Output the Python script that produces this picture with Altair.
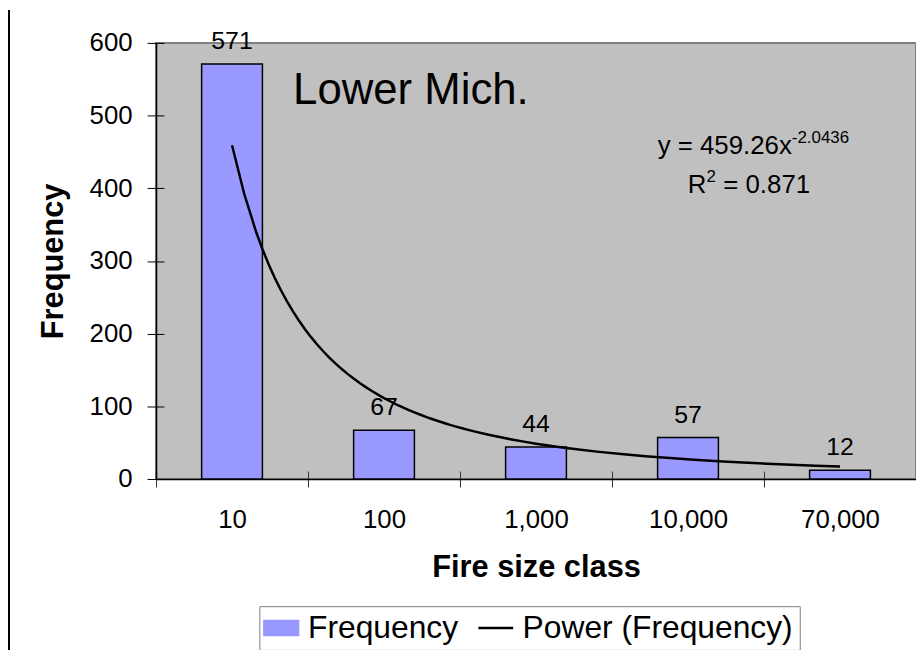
import altair as alt
import pandas as pd

# ---- data ----
size_class = ["10", "100", "1,000", "10,000", "70,000"]
frequency = [571, 67, 44, 57, 12]
class_index = [1, 2, 3, 4, 5]
series_names = ["Frequency", "Power (Frequency)"]

FONT = "Liberation Sans"
PLOT_W, PLOT_H = 765, 439

bars_df = pd.DataFrame({
    "size_class": size_class,
    "frequency": frequency,
    "idx": class_index,
    "series": [series_names[0]] * len(size_class),
})

color_scale = alt.Scale(domain=series_names, range=["#9999FF", "#000000"])

legend = alt.Legend(
    title=None, orient="none", legendX=104, legendY=567, direction="horizontal",
    labelFont=FONT, labelFontSize=32, labelColor="black", labelLimit=400,
    symbolSize=1225, labelOffset=11, columnPadding=14,
    strokeColor="#808080", padding=6, fillColor="white",
    symbolType={"expr": "datum.value === 'Frequency' ? 'M-1,-0.43H1V0.43H-1Z' : 'stroke'"},
    symbolFillColor={"expr": "datum.value === 'Frequency' ? '#9999FF' : 'transparent'"},
    symbolStrokeColor="black",
    symbolStrokeWidth={"expr": "datum.value === 'Frequency' ? 1.5 : 2.5"},
    symbolOpacity=1,
)

y_enc = alt.Y(
    "frequency:Q",
    scale=alt.Scale(domain=[0, 600], nice=False),
    axis=alt.Axis(
        values=list(range(0, 700, 100)), title="Frequency",
        titleFont=FONT, titleFontSize=31, titleFontWeight="bold", titlePadding=20,
        titleColor="black", labelFont=FONT, labelFontSize=26, labelPadding=15,
        labelColor="black", tickSize=9, tickColor="black", domainColor="black",
        domainWidth=1.5, grid=True, gridColor="black", gridDash=[8, 2000],
        gridOpacity=1,
    ),
)

base = alt.Chart(bars_df)

bars = base.mark_bar(
    stroke="black", strokeWidth=1.5, opacity=1, width=alt.RelativeBandSize(0.4)
).encode(
    x=alt.X(
        "size_class:N", sort=size_class, title="Fire size class",
        scale=alt.Scale(paddingInner=0, paddingOuter=0),
        axis=alt.Axis(
            labelAngle=0, tickBand="extent", tickSize=8, tickColor="#333333",
            labelPadding=20, labelFont=FONT, labelFontSize=26, labelColor="black",
            titleFont=FONT, titleFontSize=31, titleFontWeight="bold",
            titleColor="black", titlePadding=20, domainColor="black", domainWidth=1.5,
            grid=True, gridColor="#333333", gridDash=[0, PLOT_H - 8, 8, 2000],
            gridOpacity=1,
        ),
    ),
    y=y_enc,
    color=alt.Color("series:N", scale=color_scale, legend=legend),
)

labels = base.mark_text(
    font=FONT, fontSize=25, dy=-15, baseline="alphabetic", color="black"
).encode(
    x=alt.X("size_class:N", sort=size_class),
    y=alt.Y("frequency:Q"),
    text=alt.Text("frequency:Q"),
)

bar_layer = alt.layer(bars, labels)

trend = (
    base.transform_regression("idx", "frequency", method="pow")
    .transform_calculate(series="'Power (Frequency)'")
    .mark_line(strokeWidth=2.5)
    .encode(
        x=alt.X("idx:Q", scale=alt.Scale(domain=[0.5, 5.5], nice=False, zero=False), axis=None),
        y=alt.Y("frequency:Q"),
        color=alt.Color("series:N", scale=color_scale, legend=legend),
    )
)


def note(text, x, y, size, align="left", weight="normal"):
    return alt.Chart(pd.DataFrame({"t": [text]})).mark_text(
        font=FONT, fontSize=size, align=align, baseline="alphabetic",
        color="black", fontWeight=weight,
    ).encode(text="t:N", x=alt.value(x), y=alt.value(y))


title_txt = note("Lower Mich.", 138, 62, 44)
eq_main = note("y = 459.26x", 640, 112, 26, align="right")
eq_sup = note("-2.0436", 640, 101, 17)
r_main = note("R", 554, 151, 26, align="right")
r_sup = note("2", 554, 140, 17)
r_rest = note("= 0.871", 571, 151, 26)

frame = alt.Chart(pd.DataFrame({"a": [0]})).mark_rule(color="black", strokeWidth=2).encode(
    x=alt.value(-148), y=alt.value(-33), y2=alt.value(620)
)

chart = (
    alt.layer(bar_layer, trend, title_txt, eq_main, eq_sup, r_main, r_sup, r_rest, frame)
    .resolve_scale(x="independent")
    .properties(
        width=PLOT_W, height=PLOT_H,
        autosize=alt.AutoSizeParams(type="none"),
        padding={"left": 149, "top": 33, "right": 0, "bottom": 170},
        background="white",
    )
    .configure(font=FONT)
    .configure_view(fill="#C0C0C0", stroke="#808080", strokeWidth=2)
)

chart.save("out.html", embed_options={"renderer": "svg", "actions": False})
